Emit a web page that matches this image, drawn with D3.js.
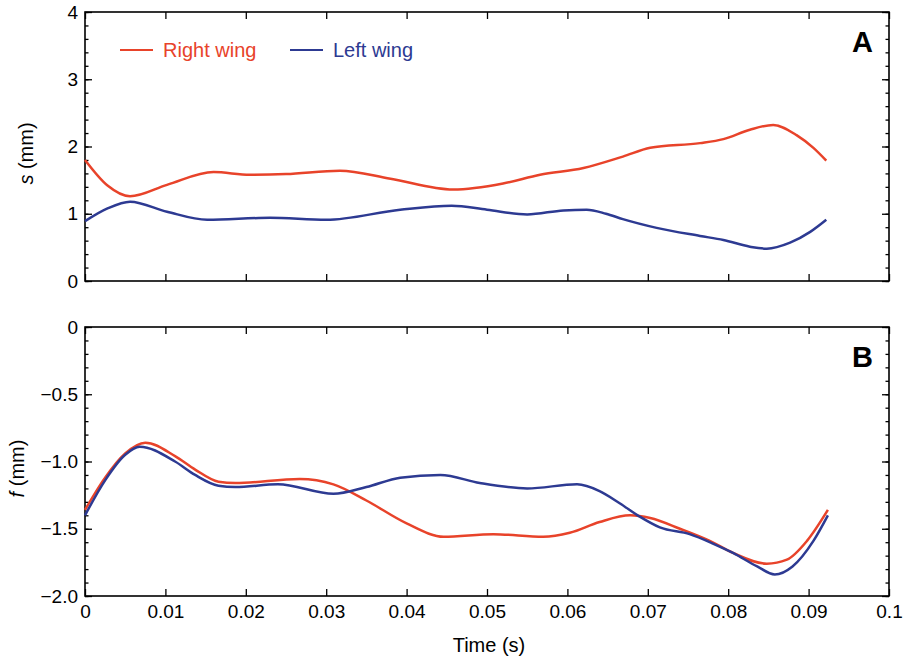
<!DOCTYPE html>
<html>
<head>
<meta charset="utf-8">
<script src="https://cdn.jsdelivr.net/npm/d3@7"></script>
<style>
  body { margin: 0; background: #fff; }
  svg { display: block; font-family: "Liberation Sans", Arial, Helvetica, sans-serif; }
  .axis path { display: none; }
  .axis line { stroke: #000; stroke-width: 1.3px; }
  .axis text { font-size: 19px; fill: #000; }
</style>
</head>
<body>
<svg width="907" height="661"></svg>
<script>
// series: [time (s), value (mm)]
let sRight = [
  [0, 1.80], [0.0028, 1.42], [0.0056, 1.26], [0.0102, 1.43], [0.0160, 1.62],
  [0.0205, 1.58], [0.0250, 1.59], [0.0317, 1.64], [0.0380, 1.52], [0.0458, 1.36],
  [0.0520, 1.45], [0.0566, 1.58], [0.0620, 1.68], [0.0669, 1.85], [0.0703, 1.98],
  [0.0765, 2.05], [0.0794, 2.11], [0.0827, 2.25], [0.0856, 2.32], [0.0885, 2.17],
  [0.0906, 1.98], [0.0922, 1.79]
];
let sLeft = [
  [0, 0.89], [0.0028, 1.08], [0.0056, 1.18], [0.0102, 1.03], [0.0152, 0.91],
  [0.0230, 0.94], [0.0300, 0.91], [0.0392, 1.06], [0.0456, 1.12], [0.0500, 1.06],
  [0.0550, 0.99], [0.0595, 1.05], [0.0624, 1.06], [0.0648, 1.00], [0.0669, 0.92],
  [0.0711, 0.79], [0.0765, 0.67], [0.0794, 0.61], [0.0827, 0.51], [0.0848, 0.48],
  [0.0877, 0.57], [0.0902, 0.73], [0.0922, 0.91]
];
let fRight = [
  [0, -1.36], [0.0025, -1.12], [0.0050, -0.94], [0.0075, -0.86], [0.0112, -0.96],
  [0.0137, -1.06], [0.0166, -1.15], [0.0187, -1.16], [0.0267, -1.13], [0.0309, -1.17],
  [0.0350, -1.29], [0.0400, -1.46], [0.0446, -1.56], [0.0508, -1.54], [0.0570, -1.56],
  [0.0603, -1.53], [0.0640, -1.45], [0.0678, -1.40], [0.0703, -1.42], [0.0740, -1.50],
  [0.0777, -1.59], [0.0806, -1.68], [0.0848, -1.76], [0.0873, -1.73], [0.0898, -1.59],
  [0.0924, -1.36]
];
let fLeft = [
  [0, -1.40], [0.0025, -1.14], [0.0050, -0.95], [0.0068, -0.89], [0.0112, -1.00],
  [0.0137, -1.10], [0.0166, -1.18], [0.0187, -1.19], [0.0240, -1.17], [0.0309, -1.24],
  [0.0350, -1.19], [0.0392, -1.12], [0.0442, -1.10], [0.0491, -1.16], [0.0550, -1.20],
  [0.0612, -1.17], [0.0640, -1.22], [0.0665, -1.31], [0.0690, -1.41], [0.0715, -1.49],
  [0.0752, -1.54], [0.0781, -1.61], [0.0806, -1.68], [0.0836, -1.78], [0.0858, -1.84],
  [0.0880, -1.78], [0.0906, -1.59], [0.0924, -1.40]
];
let seriesNames = ["Right wing", "Left wing"];
let seriesColors = ["#e8432a", "#2d3a92"];
let xTicks = [0, 0.01, 0.02, 0.03, 0.04, 0.05, 0.06, 0.07, 0.08, 0.09, 0.1];
let xTickLabels = ["0", "0.01", "0.02", "0.03", "0.04", "0.05", "0.06", "0.07", "0.08", "0.09", "0.1"];
let sTicks = [0, 1, 2, 3, 4];
let fTicks = [0, -0.5, -1.0, -1.5, -2.0];

let svg = d3.select("svg");
let left = 85, right = 889;

let x = d3.scaleLinear().domain([0, 0.1]).range([left, right]);

let panels = [
  { top: 12, bottom: 281, domain: [0, 4], ticks: sTicks, minor: 0.2,
    fmt: d3.format("d"), series: [sRight, sLeft], letter: "A", label: "s", labelX: 33, xLabels: false },
  { top: 327, bottom: 596, domain: [-2, 0], ticks: fTicks, minor: 0.1,
    fmt: d => d === 0 ? "0" : d3.format(".1f")(d).replace("-", "\u2212"), series: [fRight, fLeft],
    letter: "B", label: "f", labelX: 24, xLabels: true }
];

panels.forEach(p => {
  let y = d3.scaleLinear().domain(p.domain).range([p.bottom, p.top]);
  let g = svg.append("g");
  let minorVals = d3.range(p.domain[0], p.domain[1] + 1e-9, p.minor);

  // minor ticks, both sides
  g.append("g").attr("class", "axis").attr("transform", `translate(${left},0)`)
    .call(d3.axisLeft(y).tickValues(minorVals).tickSize(-3.5).tickFormat(""));
  g.append("g").attr("class", "axis").attr("transform", `translate(${right},0)`)
    .call(d3.axisRight(y).tickValues(minorVals).tickSize(-3.5).tickFormat(""));

  // major ticks
  g.append("g").attr("class", "axis").attr("transform", `translate(${left},0)`)
    .call(d3.axisLeft(y).tickValues(p.ticks).tickSize(-7).tickPadding(7).tickFormat(p.fmt));
  g.append("g").attr("class", "axis").attr("transform", `translate(${right},0)`)
    .call(d3.axisRight(y).tickValues(p.ticks).tickSize(-7).tickFormat(""));

  g.append("g").attr("class", "axis").attr("transform", `translate(0,${p.top})`)
    .call(d3.axisTop(x).tickValues(xTicks).tickSize(-7).tickFormat(""));
  g.append("g").attr("class", "axis").attr("transform", `translate(0,${p.bottom})`)
    .call(d3.axisBottom(x).tickValues(xTicks).tickSize(-7).tickPadding(9)
      .tickFormat((d, i) => p.xLabels ? xTickLabels[i] : ""));

  // frame
  g.append("rect")
    .attr("x", left).attr("y", p.top)
    .attr("width", right - left).attr("height", p.bottom - p.top)
    .attr("fill", "none").attr("stroke", "#000").attr("stroke-width", 1.6);

  let line = d3.line()
    .x(d => x(d[0]))
    .y(d => y(d[1]))
    .curve(d3.curveMonotoneX);

  p.series.forEach((s, i) => {
    g.append("path")
      .datum(s)
      .attr("d", line)
      .attr("fill", "none")
      .attr("stroke", seriesColors[i])
      .attr("stroke-width", 2.5);
  });

  // panel letter
  g.append("text")
    .attr("x", 873).attr("y", p.top + 40)
    .attr("text-anchor", "end")
    .style("font-size", "29px").style("font-weight", "bold")
    .text(p.letter);

  // y label
  let yl = g.append("text")
    .attr("transform", `translate(${p.labelX},${(p.top + p.bottom) / 2 + 7}) rotate(-90)`)
    .attr("text-anchor", "middle")
    .style("font-size", "20px");
  yl.append("tspan").style("font-style", "italic").text(p.label);
  yl.append("tspan").text(" (mm)");
});

// x label
svg.append("text")
  .attr("x", 489).attr("y", 652)
  .attr("text-anchor", "middle")
  .style("font-size", "20px")
  .text("Time (s)");

// legend
let legendX = [120, 290];
seriesNames.forEach((n, i) => {
  svg.append("line")
    .attr("x1", legendX[i]).attr("x2", legendX[i] + 33)
    .attr("y1", 50).attr("y2", 50)
    .attr("stroke", seriesColors[i]).attr("stroke-width", 2);
  svg.append("text")
    .attr("x", legendX[i] + 43).attr("y", 57)
    .style("font-size", "20px")
    .attr("fill", seriesColors[i])
    .text(n);
});
</script>
</body>
</html>
